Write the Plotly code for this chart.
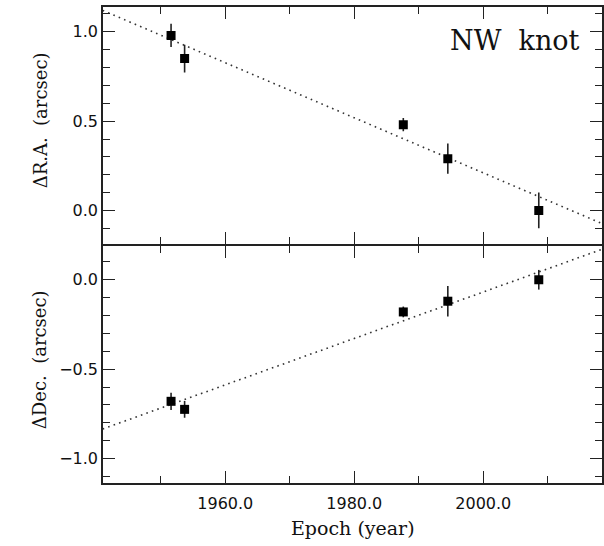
import plotly.graph_objects as go
from plotly.subplots import make_subplots

# Data
epochs = [1951.6, 1953.7, 1987.6, 1994.5, 2008.6]
dra = [0.98, 0.85, 0.48, 0.29, 0.00]
dra_err = [0.065, 0.078, 0.037, 0.085, 0.10]
ddec = [-0.68, -0.725, -0.18, -0.12, 0.00]
ddec_err = [0.048, 0.047, 0.03, 0.085, 0.055]

fit_x = [1941.0, 2018.5]
fit_ra = [1.12, -0.075]
fit_dec = [-0.835, 0.172]

x_ticks = [1960, 1980, 2000]
x_ticklabels = ["1960.0", "1980.0", "2000.0"]
ra_ticks = [0.0, 0.5, 1.0]
ra_ticklabels = ["0.0", "0.5", "1.0"]
dec_ticks = [-1.0, -0.5, 0.0]
dec_ticklabels = ["\u22121.0", "\u22120.5", "0.0"]

W, H = 604, 546
LW = 1.6
L, R, T, B = 102 + LW / 2, 1 + LW / 2, 6 + LW / 2, 62 + LW / 2
pw, ph = W - L - R, H - T - B
mid = 245.0
bot_top_edge = mid + LW / 2
top_bot_edge = mid - LW / 2

def px(xp):
    return (xp - L) / pw

def py(yp):
    return (H - B - yp) / ph

fig = make_subplots(rows=2, cols=1, shared_xaxes=True, vertical_spacing=0)

dot = dict(color="#333333", width=1.6, dash="1.6px,4.2px")
err_style = dict(type="data", visible=True, thickness=1.6, width=0, color="#222222")
mk = dict(symbol="square", size=9, color="black")

fig.add_trace(go.Scatter(x=fit_x, y=fit_ra, mode="lines", line=dot, showlegend=False,
                         hoverinfo="skip"), row=1, col=1)
fig.add_trace(go.Scatter(x=epochs, y=dra, mode="markers", marker=mk,
                         error_y=dict(array=dra_err, **err_style), showlegend=False), row=1, col=1)
fig.add_trace(go.Scatter(x=fit_x, y=fit_dec, mode="lines", line=dot, showlegend=False,
                         hoverinfo="skip"), row=2, col=1)
fig.add_trace(go.Scatter(x=epochs, y=ddec, mode="markers", marker=mk,
                         error_y=dict(array=ddec_err, **err_style), showlegend=False), row=2, col=1)

tickfont = dict(family="DejaVu Sans", size=16, color="#111111")
axis_common = dict(showline=True, linecolor="#222222", linewidth=LW, mirror="allticks",
                   ticks="inside", ticklen=12, tickwidth=1.4, tickcolor="#222222",
                   showgrid=False, zeroline=False, tickfont=tickfont)

x_range = [1941.05, 2018.4]
fig.update_xaxes(range=x_range, tickmode="array", tickvals=x_ticks, ticktext=x_ticklabels,
                 ticklabelstandoff=5,
                 minor=dict(dtick=10, tick0=1950, ticks="inside", ticklen=7, tickwidth=1.4,
                            tickcolor="#222222", showgrid=False),
                 **axis_common)
fig.update_xaxes(showticklabels=False, row=1, col=1)

fig.update_yaxes(range=[-0.189, 1.139], tickmode="array", tickvals=ra_ticks,
                 ticktext=ra_ticklabels, domain=[py(top_bot_edge), 1],
                 minor=dict(dtick=0.1, tick0=0, ticks="inside", ticklen=7, tickwidth=1.4,
                            tickcolor="#222222", showgrid=False),
                 row=1, col=1, **axis_common)
fig.update_yaxes(range=[-1.137, 0.19], tickmode="array", tickvals=dec_ticks,
                 ticktext=dec_ticklabels, domain=[0, py(bot_top_edge)],
                 minor=dict(dtick=0.1, tick0=0, ticks="inside", ticklen=7, tickwidth=1.4,
                            tickcolor="#222222", showgrid=False),
                 row=2, col=1, **axis_common)

serif = "DejaVu Serif"
fig.add_annotation(text="NW  knot", xref="paper", yref="paper", x=px(515), y=py(40),
                   xanchor="center", yanchor="middle", showarrow=False,
                   font=dict(family=serif, size=27, color="#111111"))
fig.add_annotation(text="Epoch (year)", xref="paper", yref="paper", x=px(353), y=py(528),
                   xanchor="center", yanchor="middle", showarrow=False,
                   font=dict(family=serif, size=19, color="#111111"))
fig.add_annotation(text="\u0394R.A.  (arcsec)", xref="paper", yref="paper", x=px(40),
                   y=py(120), xanchor="center", yanchor="middle", textangle=-90,
                   showarrow=False, font=dict(family=serif, size=18, color="#111111"))
fig.add_annotation(text="\u0394Dec.  (arcsec)", xref="paper", yref="paper", x=px(40),
                   y=py(360), xanchor="center", yanchor="middle", textangle=-90,
                   showarrow=False, font=dict(family=serif, size=18, color="#111111"))

fig.update_layout(width=W, height=H, margin=dict(l=L, r=R, t=T, b=B),
                  plot_bgcolor="white", paper_bgcolor="white", showlegend=False)

fig.write_html("out.html", config={"displayModeBar": False},
               post_script="document.body.style.margin='0px';"
               "document.body.style.overflow='hidden';")
